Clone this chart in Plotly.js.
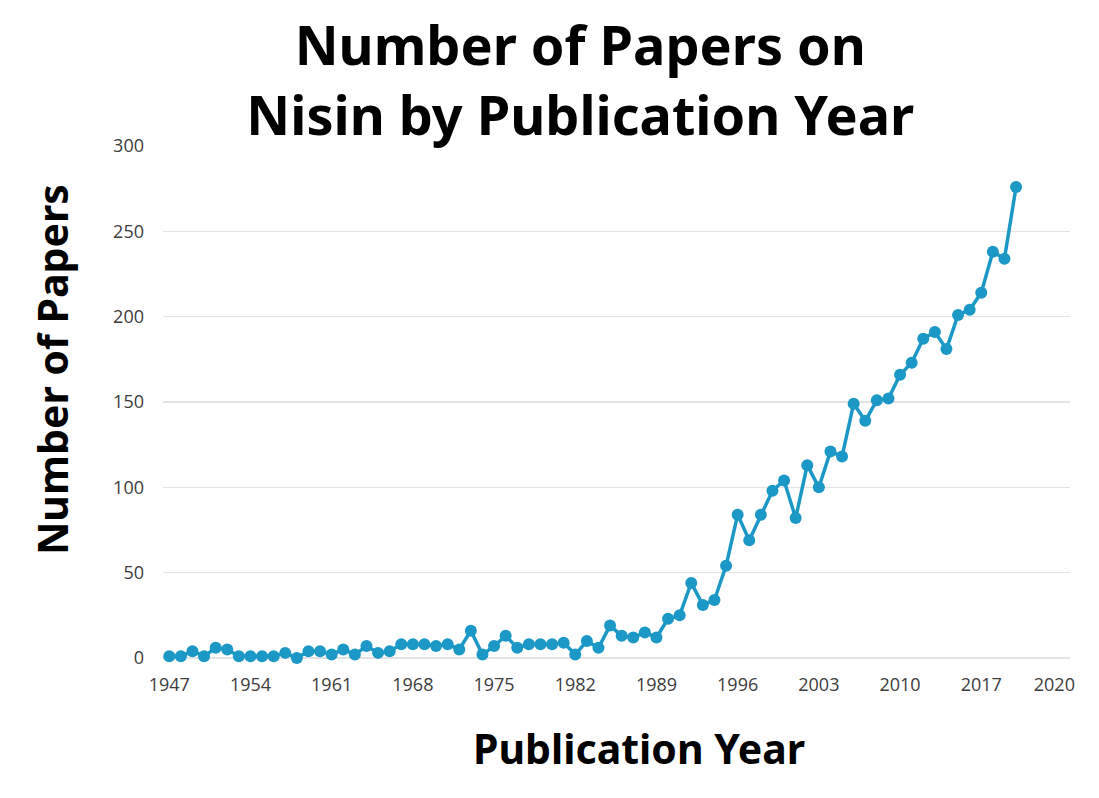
<!DOCTYPE html>
<html>
<head>
<meta charset="utf-8">
<script src="https://cdn.plot.ly/plotly-3.0.1.min.js"></script>
<style>
  html, body { margin: 0; padding: 0; background: #ffffff; }
  #chart { width: 1099px; height: 798px; }
</style>
</head>
<body>
<div id="chart"></div>
<script>
// Publication years (one point per year)
const years = [
  1947, 1948, 1949, 1950, 1951, 1952, 1953, 1954, 1955, 1956,
  1957, 1958, 1959, 1960, 1961, 1962, 1963, 1964, 1965, 1966,
  1967, 1968, 1969, 1970, 1971, 1972, 1973, 1974, 1975, 1976,
  1977, 1978, 1979, 1980, 1981, 1982, 1983, 1984, 1985, 1986,
  1987, 1988, 1989, 1990, 1991, 1992, 1993, 1994, 1995, 1996,
  1997, 1998, 1999, 2000, 2001, 2002, 2003, 2004, 2005, 2006,
  2007, 2008, 2009, 2010, 2011, 2012, 2013, 2014, 2015, 2016,
  2017, 2018, 2019, 2020
];

// Number of papers per year
const papers = [
  1, 1, 4, 1, 6, 5, 1, 1, 1, 1,
  3, 0, 4, 4, 2, 5, 2, 7, 3, 4,
  8, 8, 8, 7, 8, 5, 16, 2, 7, 13,
  6, 8, 8, 8, 9, 2, 10, 6, 19, 13,
  12, 15, 12, 23, 25, 44, 31, 34, 54, 84,
  69, 84, 98, 104, 82, 113, 100, 121, 118, 149,
  139, 151, 152, 166, 173, 187, 191, 181, 201, 204,
  214, 238, 234, 276
];

// Axis tick labels
const xTickVals = [1947, 1954, 1961, 1968, 1975, 1982, 1989, 1996, 2003, 2010, 2017, 2023.3];
const xTickText = ["1947", "1954", "1961", "1968", "1975", "1982", "1989", "1996", "2003", "2010", "2017", "2020"];
const yTickVals = [0, 50, 100, 150, 200, 250, 300];

// Axis titles
const xTitle = 'Publication Year';
const yTitle = 'Number of Papers';

const axisTitleFont = { family: 'Noto Sans, sans-serif', size: 41, color: '#000000', weight: 'bold' };

const trace = {
  x: years,
  y: papers,
  type: 'scatter',
  mode: 'lines+markers',
  line: { color: '#1b98c6', width: 3.5 },
  marker: { color: '#1b98c6', size: 12 },
  cliponaxis: false,
  hoverinfo: 'x+y'
};

const layout = {
  width: 1099,
  height: 798,
  paper_bgcolor: '#ffffff',
  plot_bgcolor: '#ffffff',
  showlegend: false,
  margin: { l: 163, r: 29, t: 146, b: 140 },
  title: {
    text: 'Number of Papers on<br>Nisin by Publication Year',
    font: { family: 'Noto Sans, sans-serif', size: 54, color: '#000000', weight: 'bold' },
    x: 0.528,
    xanchor: 'center',
    xref: 'container',
    y: 0.919,
    yanchor: 'top',
    yref: 'container'
  },
  xaxis: {
    range: [1946.46, 2024.65],
    tickvals: xTickVals,
    ticktext: xTickText,
    ticks: '',
    showgrid: false,
    zeroline: false,
    showline: false,
    tickfont: { family: 'Open Sans, sans-serif', size: 18, color: '#3c3c3c' },
    ticklabelstandoff: 14,
    automargin: false,
    fixedrange: true
  },
  yaxis: {
    range: [0, 300],
    tickvals: yTickVals,
    ticks: '',
    showgrid: true,
    gridcolor: '#e3e3e3',
    gridwidth: 1.5,
    zeroline: true,
    zerolinecolor: '#e3e3e3',
    zerolinewidth: 1.5,
    showline: false,
    tickfont: { family: 'Open Sans, sans-serif', size: 18, color: '#3c3c3c' },
    ticklabelstandoff: 18,
    automargin: false,
    fixedrange: true
  },
  annotations: [
    {
      text: xTitle,
      xref: 'paper', yref: 'paper',
      x: 0.5248, y: -0.176,
      xanchor: 'center', yanchor: 'middle',
      showarrow: false,
      font: axisTitleFont
    },
    {
      text: yTitle,
      xref: 'paper', yref: 'paper',
      x: -0.1224, y: 0.5645,
      xanchor: 'center', yanchor: 'middle',
      textangle: -90,
      showarrow: false,
      font: axisTitleFont
    }
  ]
};

Plotly.newPlot('chart', [trace], layout, { displayModeBar: false, staticPlot: true });
</script>
</body>
</html>
